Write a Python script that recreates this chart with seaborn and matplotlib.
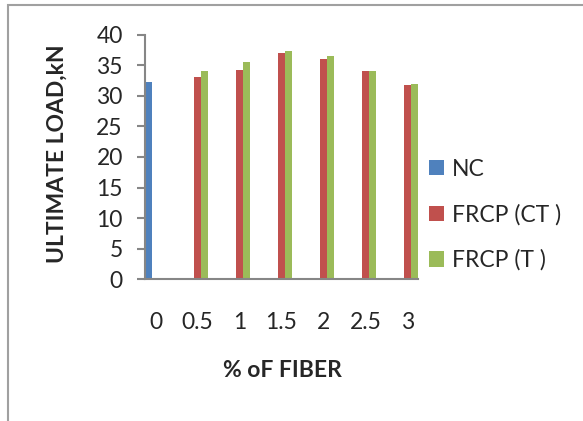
import pandas as pd
import seaborn as sns
import matplotlib.pyplot as plt
from matplotlib.patches import Rectangle

# Chart data
fiber_pct = ['0', '0.5', '1', '1.5', '2', '2.5', '3']
series_names = ['NC', 'FRCP (CT )', 'FRCP (T )']
nc_load = [32.3]
ct_load = [33.0, 34.3, 37.0, 36.1, 34.0, 31.8]
t_load = [34.0, 35.6, 37.3, 36.5, 34.0, 31.9]
y_ticks = [0, 5, 10, 15, 20, 25, 30, 35, 40]
colors = ['#4F81BD', '#C0504D', '#9BBB59']

# Long format table for seaborn
rows = [(fiber_pct[0], series_names[0], v) for v in nc_load]
rows += [(f, series_names[1], v) for f, v in zip(fiber_pct[1:], ct_load)]
rows += [(f, series_names[2], v) for f, v in zip(fiber_pct[1:], t_load)]
df = pd.DataFrame(rows, columns=['fiber', 'series', 'load'])

sns.set_style('white')
plt.rcParams['font.family'] = ['Lato', 'DejaVu Sans']
fs = 16.5

fig = plt.figure(figsize=(5.83, 4.21), dpi=100)
ax = fig.add_axes([0.2487, 0.3366, 0.4683, 0.581])

sns.barplot(data=df, x='fiber', y='load', hue='series', order=fiber_pct,
            hue_order=series_names, palette=colors, width=0.514,
            saturation=1, errorbar=None, linewidth=0, ax=ax)

ax.set_xlim(-0.257, 6.257)
ax.set_ylim(0, 40)
ax.set_yticks(y_ticks)

for side in ['top', 'right']:
    ax.spines[side].set_visible(False)
for side in ['left', 'bottom']:
    ax.spines[side].set_color('#868686')
    ax.spines[side].set_linewidth(1.5)

ax.tick_params(axis='y', length=6, width=1.5, color='#868686', direction='out',
               pad=10, labelsize=fs, left=True)
ax.tick_params(axis='x', length=0, pad=23.5, labelsize=fs)

# axis titles, centred on fixed spots
ax.set_xlabel('% oF FIBER', fontsize=fs, fontweight='bold')
ax.set_ylabel('ULTIMATE LOAD,kN', fontsize=fs, fontweight='bold')
ax.xaxis.label.set(va='center', ha='center')
ax.yaxis.label.set(va='center', ha='center', rotation_mode='default')
ax.xaxis.set_label_coords(0.502, -0.371)
ax.yaxis.set_label_coords(-0.322, 0.512)

ax.legend(loc='center left', bbox_to_anchor=(1.04, 0.263), frameon=False,
          fontsize=fs, handlelength=0.65, handleheight=0.65,
          handletextpad=0.35, labelspacing=1.05, borderpad=0, borderaxespad=0)

# outer frame of the chart area (cut off at right and bottom)
fig.add_artist(Rectangle((8 / 583, -0.1), 1.0, 1.1 - 5 / 421,
                         transform=fig.transFigure, fill=False,
                         edgecolor='#A0A0A0', linewidth=1.5))

fig.savefig('out.png', dpi=100)
